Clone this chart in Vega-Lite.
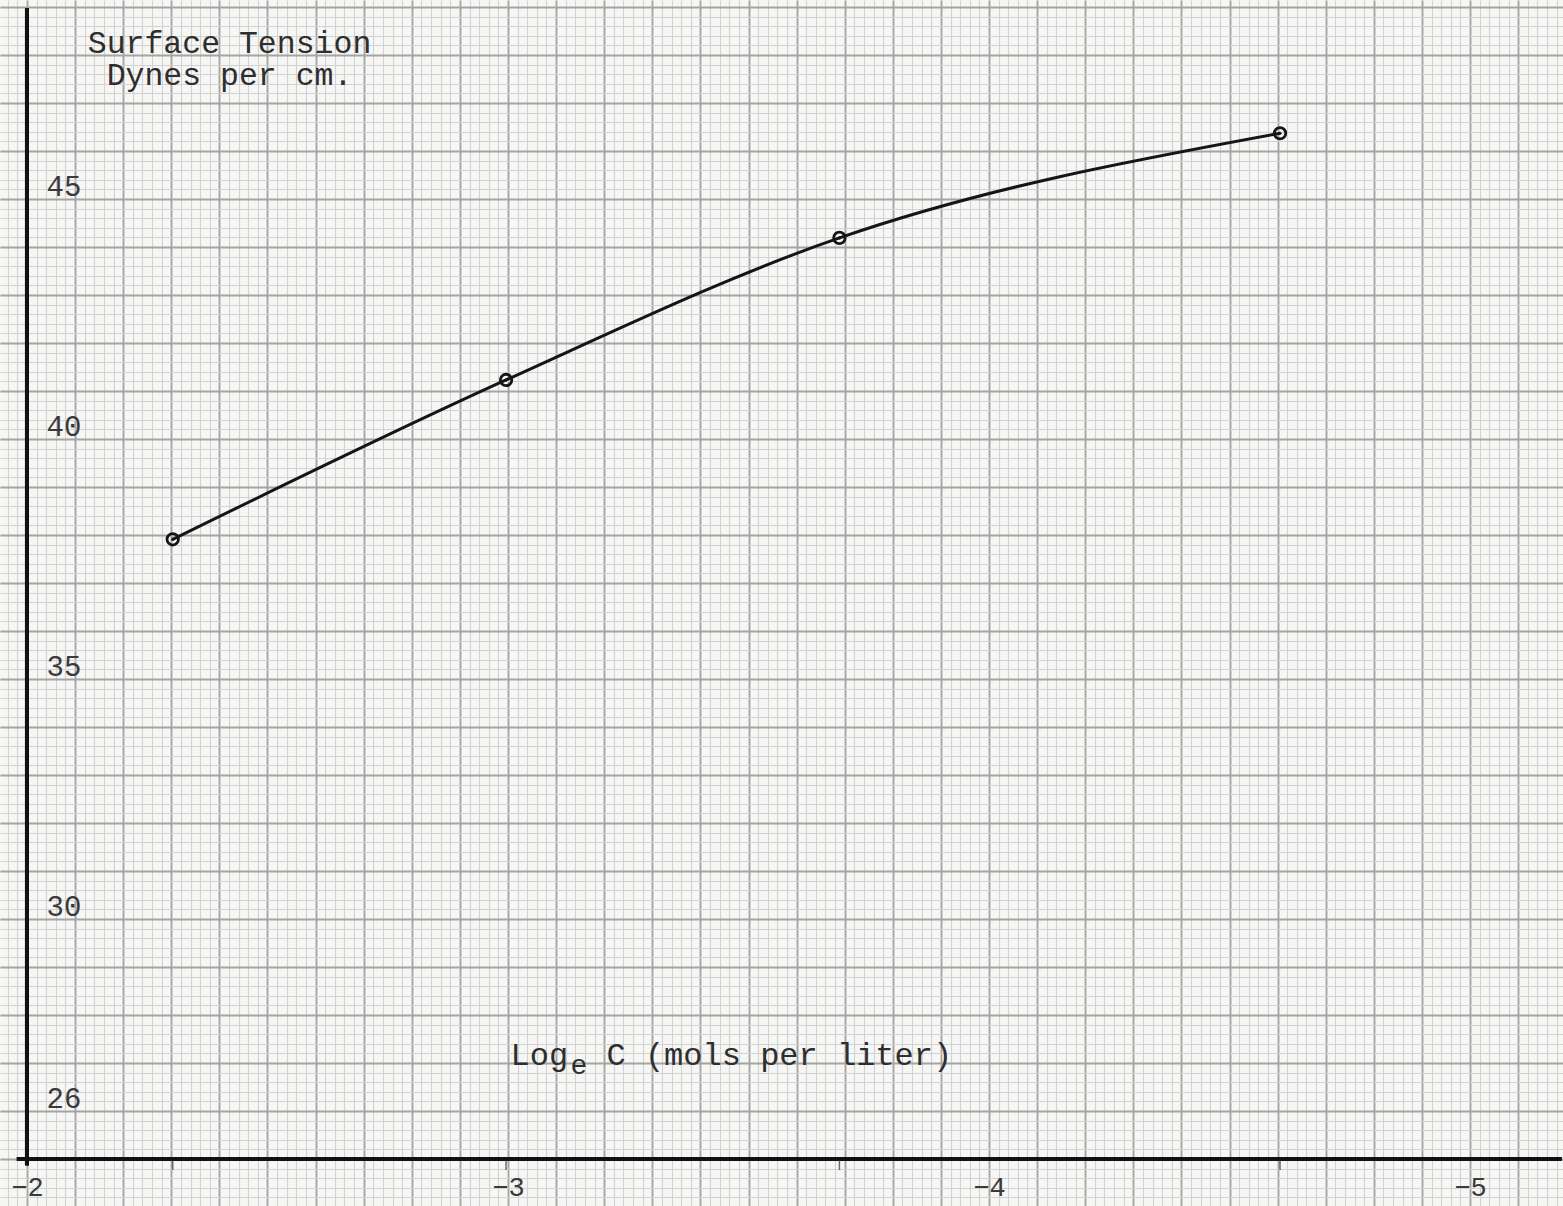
{
  "$schema": "https://vega.github.io/schema/vega-lite/v6.json",
  "width": 1563,
  "height": 1206,
  "autosize": {"type": "none"},
  "padding": 0,
  "background": "#f6f6f4",
  "config": {
    "view": {"stroke": null},
    "axis": {"labelFont": "Liberation Mono", "titleFont": "Liberation Mono", "titleFontWeight": "normal"}
  },
  "data": {
    "values": [
      {"logC": -2.303, "tension": 37.91},
      {"logC": -2.996, "tension": 41.23},
      {"logC": -3.689, "tension": 44.19},
      {"logC": -4.605, "tension": 46.37}
    ]
  },
  "resolve": {"axis": {"x": "independent", "y": "independent"}},
  "layer": [
    {
      "mark": {"type": "line", "interpolate": "monotone", "color": "#151515", "strokeWidth": 3},
      "encoding": {
        "x": {"field": "logC", "type": "quantitative",
          "scale": {"domain": [-5.1933, -1.9439], "reverse": true, "nice": false, "zero": false},
          "axis": {"orient": "bottom", "grid": true, "gridColor": "#d2d2d2", "gridWidth": 1.1, "tickCount": 163, "labels": false, "ticks": false, "domain": false, "title": null}},
        "y": {"field": "tension", "type": "quantitative",
          "scale": {"domain": [24.021, 49.146], "nice": false, "zero": false},
          "axis": {"orient": "left", "grid": true, "gridColor": "#d2d2d2", "gridWidth": 1.1, "tickCount": 126, "labels": false, "ticks": false, "domain": false, "title": null}}
      }
    },
    {
      "mark": {"type": "point", "shape": "circle", "filled": false, "size": 130, "strokeWidth": 2.8, "color": "#151515", "opacity": 1},
      "encoding": {
        "x": {"field": "logC", "type": "quantitative",
          "scale": {"domain": [-5.1933, -1.9439], "reverse": true, "nice": false, "zero": false},
          "axis": {"orient": "bottom", "grid": true, "gridColor": "#a4a4a4", "gridWidth": 1.8, "tickCount": 33, "labels": false, "ticks": false, "domain": false, "title": null}},
        "y": {"field": "tension", "type": "quantitative",
          "scale": {"domain": [24.021, 49.146], "nice": false, "zero": false},
          "axis": {"orient": "left", "grid": true, "gridColor": "#a4a4a4", "gridWidth": 1.8, "tickCount": 25, "labels": false, "ticks": false, "domain": false, "title": null}}
      }
    },
    {
      "mark": {"type": "point", "shape": "circle", "filled": true, "size": 10, "color": "#151515", "opacity": 1},
      "encoding": {
        "x": {"field": "logC", "type": "quantitative",
          "scale": {"domain": [-5.1933, -1.9439], "reverse": true, "nice": false, "zero": false},
          "axis": {"orient": "bottom", "values": [-2, -3, -4, -5], "grid": false, "ticks": false, "domain": false, "labelFlush": false,
            "labelFontSize": 27, "labelColor": "#3a3a3a", "labelBaseline": "middle", "labelPadding": -19,
            "title": "Log", "titleX": 510, "titleY": -142, "titleAlign": "left",
            "titleBaseline": "alphabetic", "titleFontSize": 32, "titleColor": "#2e2e2e"}},
        "y": {"field": "tension", "type": "quantitative",
          "scale": {"domain": [24.021, 49.146], "nice": false, "zero": false},
          "axis": {"orient": "left", "values": [26, 30, 35, 40, 45], "grid": false, "ticks": false, "domain": false,
            "labelAlign": "left", "labelPadding": -46, "labelOffset": -13, "labelBaseline": "middle",
            "labelFontSize": 29, "labelColor": "#3a3a3a",
            "title": ["Surface Tension", "Dynes per cm."], "titleAngle": 0, "titleAlign": "center",
            "titleBaseline": "alphabetic", "titleX": 229, "titleY": 52, "titleLineHeight": 32,
            "titleFontSize": 31.5, "titleColor": "#2e2e2e"}}
      }
    },
    {
      "mark": {"type": "rule", "color": "#111111", "strokeWidth": 4},
      "encoding": {
        "x": {"datum": -2, "type": "quantitative",
          "scale": {"domain": [-5.1933, -1.9439], "reverse": true, "nice": false, "zero": false},
          "axis": {"orient": "bottom", "grid": false, "labels": false, "ticks": false, "domain": false,
            "title": "C (mols per liter)", "titleX": 606, "titleY": -142, "titleAlign": "left", "titleBaseline": "alphabetic",
            "titleFontSize": 32, "titleColor": "#2e2e2e"}},
        "y": {"datum": 48.97, "type": "quantitative",
          "scale": {"domain": [24.021, 49.146], "nice": false, "zero": false}, "axis": null},
        "y2": {"datum": 24.87}
      }
    },
    {
      "mark": {"type": "rule", "color": "#111111", "strokeWidth": 4},
      "encoding": {
        "x": {"datum": -1.979, "type": "quantitative",
          "scale": {"domain": [-5.1933, -1.9439], "reverse": true, "nice": false, "zero": false}, "axis": null},
        "x2": {"datum": -5.19},
        "y": {"datum": 25, "type": "quantitative",
          "scale": {"domain": [24.021, 49.146], "nice": false, "zero": false}, "axis": null}
      }
    },
    {
      "mark": {"type": "tick", "orient": "vertical", "size": 10, "thickness": 1.5, "color": "#333333", "yOffset": 6},
      "encoding": {
        "x": {"field": "logC", "type": "quantitative",
          "scale": {"domain": [-5.1933, -1.9439], "reverse": true, "nice": false, "zero": false},
          "axis": {"orient": "bottom", "grid": false, "labels": false, "ticks": false, "domain": false,
            "title": "e", "titleX": 570, "titleY": -133, "titleAlign": "left", "titleBaseline": "alphabetic",
            "titleFontSize": 28, "titleColor": "#2e2e2e"}},
        "y": {"datum": 25, "type": "quantitative",
          "scale": {"domain": [24.021, 49.146], "nice": false, "zero": false}, "axis": null}
      }
    }
  ]
}
